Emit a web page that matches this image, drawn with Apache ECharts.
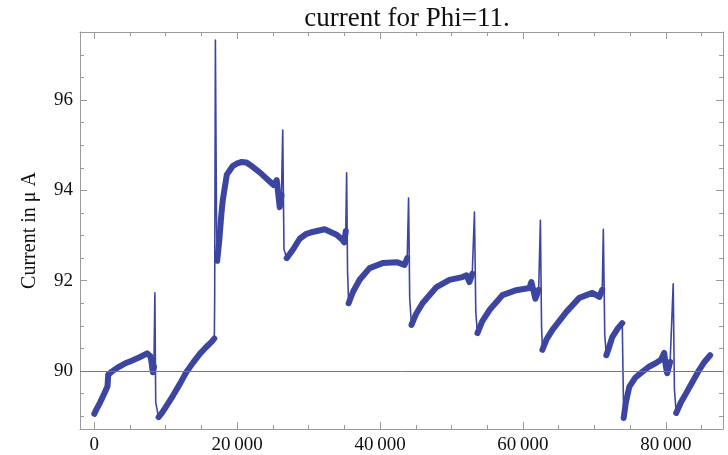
<!DOCTYPE html>
<html>
<head>
<meta charset="utf-8">
<script src="https://cdn.jsdelivr.net/npm/echarts@6/dist/echarts.min.js"></script>
<style>html,body{margin:0;padding:0;background:#fff}#c{width:728px;height:455px}</style>
</head>
<body>
<div id="c"></div>
<script>
var chartTitle = 'current for Phi=11.';
var yName = 'Current in \u03bc A';
var xMajorTicks = [0, 20000, 40000, 60000, 80000];
var xMinorTicks = [5000, 10000, 15000, 25000, 30000, 35000, 45000, 50000, 55000, 65000, 70000, 75000, 85000];
var yMajorTicks = [90, 92, 94, 96];
var yMinorTicks = [89, 89.5, 90.5, 91, 91.5, 92.5, 93, 93.5, 94.5, 95, 95.5, 96.5, 97, 97.5];
var refLevel = 90;

var timeValues = [0, 300, 800, 1400, 1850, 1950, 2400, 3200, 4200, 5400, 6400, 7400, 7900, 8200, 8350,
  8480, 8600, 9000, 9500, 10200, 11000, 12000, 12900, 13800, 14770, 15600, 16450, 16800,
  16850, 16950, 17100, 17200, 17500, 17800, 17990, 18550, 19385, 20000, 20643, 21300, 21760, 23160, 24555, 25100, 25535, 25800, 25955, 26200,
  26375, 26550, 26930, 27770, 28750, 29600, 30565, 32240, 33920, 34760, 35000, 35200,
  35320, 35450, 35600, 36200, 37140, 38536, 40353, 42310, 43430, 43800,
  43990, 44150, 44400, 45000, 45940, 47900, 49710, 51530, 52100, 52510, 52900,
  53210, 53400, 53630, 54300, 55310, 57120, 59080, 60900, 61180, 61740, 62200,
  62440, 62600, 62720, 63300, 64120, 66080, 67890, 69710, 70690, 71100,
  71250, 71450, 71670, 72000, 72500, 73300, 73900, 74000, 74100, 74400, 74880, 75700, 76700, 77700, 78650, 79300, 79770, 80000, 80190, 80600,
  81030, 81200, 81450, 82100, 82850, 83700, 84660, 85400, 86200];
var currentValues = [89.05, 89.15, 89.3, 89.5, 89.66, 89.92, 89.98, 90.07, 90.16, 90.24, 90.31, 90.39, 90.32, 89.97, 90.1,
  91.73, 89.3, 88.98, 89.08, 89.25, 89.45, 89.72, 89.98, 90.18, 90.38, 90.52, 90.65, 90.72,
  91.6, 97.33, 93.5, 92.44, 92.9, 93.5, 93.79, 94.35, 94.54, 94.6, 94.63, 94.62, 94.57, 94.4, 94.2, 94.12, 94.23, 93.85, 93.63, 93.9,
  95.34, 92.7, 92.5, 92.68, 92.93, 93.03, 93.08, 93.14, 93.02, 92.9, 92.85, 93.1,
  94.39, 92.2, 91.5, 91.75, 92.02, 92.28, 92.39, 92.41, 92.35, 92.5,
  93.83, 91.6, 91.02, 91.25, 91.5, 91.86, 92.02, 92.08, 92.12, 91.97, 92.15,
  93.52, 91.3, 90.84, 91.1, 91.35, 91.68, 91.79, 91.84, 91.97, 91.6, 91.8,
  93.34, 91.0, 90.47, 90.7, 90.91, 91.31, 91.62, 91.73, 91.64, 91.8,
  93.14, 90.8, 90.35, 90.5, 90.75, 90.95, 91.06, 90.0, 88.96, 89.3, 89.65, 89.85, 89.98, 90.1, 90.18, 90.25, 90.4, 90.1, 89.95, 90.2,
  91.93, 89.6, 89.07, 89.3, 89.51, 89.75, 90.02, 90.2, 90.35];
// samples that belong to fast transients (spikes and jumps), drawn only as a thin trace
var transientTimes = [8480, 8600, 16850, 16950, 17100, 26375, 26550, 35320, 35450, 43990, 44150,
  53210, 53400, 62440, 62600, 71250, 71450, 74000, 81030, 81200];

var traceData = timeValues.map(function (t, i) { return [t, currentValues[i]]; });
var bandData = timeValues.map(function (t, i) {
  return transientTimes.indexOf(t) >= 0 ? [t, null] : [t, currentValues[i]];
});

var lineColor = '#3c46a0';
var frameColor = '#9a9a9a';
var fontFam = '"Liberation Serif", "Times New Roman", serif';

function fmtX(v) { return String(v).replace(/\B(?=(\d{3})+(?!\d))/g, '\u2009'); }

function xAx(pos, custom, len, showLine, showLabel) {
  return {
    type: 'value', position: pos, min: -2000, max: 88000,
    axisLine: { show: showLine, onZero: false, lineStyle: { color: frameColor, width: 1 } },
    axisTick: { show: true, inside: true, length: len, customValues: custom, lineStyle: { color: frameColor } },
    axisLabel: { show: showLabel, customValues: custom, formatter: fmtX, color: '#111', fontFamily: fontFam, fontSize: 19, margin: 7 },
    splitLine: { show: false }
  };
}
function yAx(pos, custom, len, showLine, showLabel) {
  var a = {
    type: 'value', position: pos, min: 88.715, max: 97.51,
    axisLine: { show: showLine, onZero: false, lineStyle: { color: frameColor, width: 1 } },
    axisTick: { show: true, inside: true, length: len, customValues: custom, lineStyle: { color: frameColor } },
    axisLabel: { show: showLabel, customValues: custom, color: '#111', fontFamily: fontFam, fontSize: 19, margin: 7 },
    splitLine: { show: false }
  };
  if (showLabel) {
    a.name = yName;
    a.nameLocation = 'middle';
    a.nameGap = 40;
    a.nameTextStyle = { color: '#111', fontFamily: fontFam, fontSize: 20 };
  }
  return a;
}

var chart = echarts.init(document.getElementById('c'), null, { renderer: 'canvas' });
chart.setOption({
  animation: false,
  backgroundColor: '#fff',
  title: {
    text: chartTitle, left: 402, top: 0, textAlign: 'center',
    textStyle: { color: '#111', fontFamily: fontFam, fontSize: 27, fontWeight: 'normal' }
  },
  grid: { left: 80, right: 5, top: 32, bottom: 26 },
  xAxis: [
    xAx('bottom', xMajorTicks, 7, true, true),
    xAx('bottom', xMinorTicks, 4, false, false),
    xAx('top', xMajorTicks, 7, true, false),
    xAx('top', xMinorTicks, 4, false, false)
  ],
  yAxis: [
    yAx('left', yMajorTicks, 7, true, true),
    yAx('left', yMinorTicks, 4, false, false),
    yAx('right', yMajorTicks, 7, true, false),
    yAx('right', yMinorTicks, 4, false, false)
  ],
  series: [{
    type: 'line',
    xAxisIndex: 0, yAxisIndex: 0,
    data: bandData,
    connectNulls: false,
    showSymbol: false,
    lineStyle: { color: lineColor, width: 6, join: 'round', cap: 'round' }
  }, {
    type: 'line',
    xAxisIndex: 0, yAxisIndex: 0,
    data: traceData,
    showSymbol: false,
    lineStyle: { color: lineColor, width: 1.6, join: 'round' },
    markLine: {
      silent: true, symbol: 'none',
      label: { show: false },
      lineStyle: { color: '#777', width: 1, type: 'solid' },
      data: [{ yAxis: refLevel }]
    }
  }]
});
</script>
</body>
</html>
